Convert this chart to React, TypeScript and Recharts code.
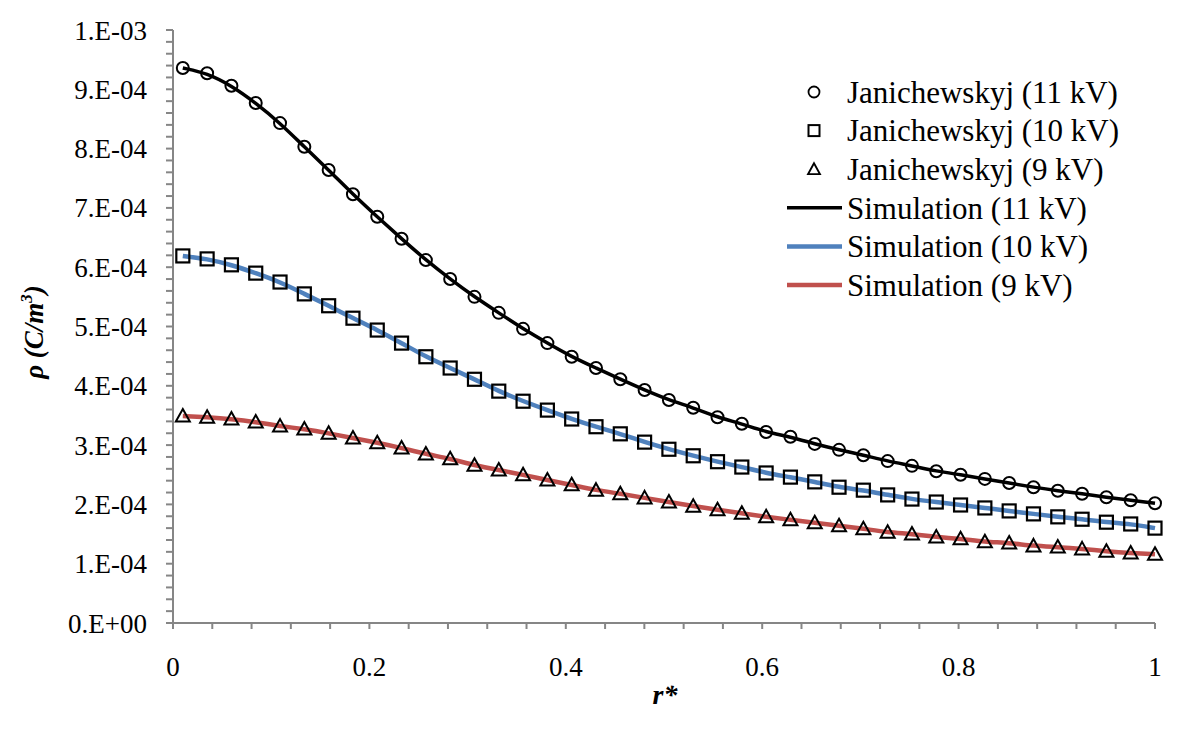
import React from 'react';
import { ComposedChart, Line, XAxis, YAxis } from 'recharts';

const FONT = "'Liberation Serif', 'Times New Roman', serif";
const AXIS_GREY = '#868686';

// r* positions of the Janichewskyj points (and of the simulation curves)
const rStar = [
    0.01, 0.03475, 0.0595, 0.08425, 0.109, 0.13375, 0.1585, 0.18325, 0.208, 0.23275,
    0.2575, 0.28225, 0.307, 0.33175, 0.3565, 0.38125, 0.406, 0.43075, 0.4555, 0.48025,
    0.505, 0.52975, 0.5545, 0.57925, 0.604, 0.62875, 0.6535, 0.67825, 0.703, 0.72775,
    0.7525, 0.77725, 0.802, 0.82675, 0.8515, 0.87625, 0.901, 0.92575, 0.9505, 0.97525, 1.0,
];

const janich11 = [
    9.36e-4, 9.27e-4, 9.06e-4, 8.77e-4, 8.43e-4, 8.03e-4, 7.64e-4, 7.23e-4, 6.85e-4, 6.48e-4,
    6.12e-4, 5.80e-4, 5.50e-4, 5.23e-4, 4.96e-4, 4.72e-4, 4.49e-4, 4.30e-4, 4.11e-4, 3.93e-4,
    3.76e-4, 3.63e-4, 3.47e-4, 3.36e-4, 3.22e-4, 3.14e-4, 3.02e-4, 2.92e-4, 2.83e-4, 2.73e-4,
    2.65e-4, 2.56e-4, 2.50e-4, 2.43e-4, 2.36e-4, 2.29e-4, 2.23e-4, 2.18e-4, 2.12e-4, 2.07e-4, 2.02e-4,
];

const janich10 = [
    6.19e-4, 6.14e-4, 6.04e-4, 5.90e-4, 5.75e-4, 5.55e-4, 5.35e-4, 5.14e-4, 4.94e-4, 4.72e-4,
    4.49e-4, 4.30e-4, 4.11e-4, 3.91e-4, 3.74e-4, 3.59e-4, 3.44e-4, 3.31e-4, 3.19e-4, 3.05e-4,
    2.93e-4, 2.82e-4, 2.72e-4, 2.63e-4, 2.53e-4, 2.46e-4, 2.38e-4, 2.29e-4, 2.24e-4, 2.16e-4,
    2.09e-4, 2.04e-4, 1.99e-4, 1.94e-4, 1.89e-4, 1.84e-4, 1.79e-4, 1.75e-4, 1.70e-4, 1.67e-4, 1.60e-4,
];

const janich9 = [
    3.49e-4, 3.47e-4, 3.44e-4, 3.39e-4, 3.32e-4, 3.27e-4, 3.20e-4, 3.12e-4, 3.04e-4, 2.95e-4,
    2.85e-4, 2.77e-4, 2.66e-4, 2.58e-4, 2.50e-4, 2.41e-4, 2.33e-4, 2.24e-4, 2.18e-4, 2.11e-4,
    2.04e-4, 1.97e-4, 1.91e-4, 1.85e-4, 1.79e-4, 1.74e-4, 1.69e-4, 1.64e-4, 1.59e-4, 1.53e-4,
    1.50e-4, 1.45e-4, 1.42e-4, 1.37e-4, 1.35e-4, 1.30e-4, 1.28e-4, 1.25e-4, 1.21e-4, 1.18e-4, 1.16e-4,
];

// simulation curves run through the measured points
const sim11 = janich11;
const sim10 = janich10;
const sim9 = janich9;

const xMajor = [0, 0.2, 0.4, 0.6, 0.8, 1];
const yMajor = [0, 1e-4, 2e-4, 3e-4, 4e-4, 5e-4, 6e-4, 7e-4, 8e-4, 9e-4, 1e-3];

// minor tick marks (every 0.04 on x, every 2e-5 on y)
const xTicks = Array.from({ length: 26 }, (_, i) => i * 0.04);
const yTicks = Array.from({ length: 51 }, (_, i) => i * 2e-5);

const legendLabels = [
    'Janichewskyj (11 kV)',
    'Janichewskyj (10 kV)',
    'Janichewskyj (9 kV)',
    'Simulation (11 kV)',
    'Simulation (10 kV)',
    'Simulation (9 kV)',
];

const data = rStar.map((r, i) => ({
    r,
    j11: janich11[i],
    j10: janich10[i],
    j9: janich9[i],
    s11: sim11[i],
    s10: sim10[i],
    s9: sim9[i],
}));

const formatX = (v: number) => {
    const major = xMajor.find(m => Math.abs(m - v) < 1e-6);
    return major === undefined ? '' : String(major);
};

const formatY = (v: number) => {
    const major = yMajor.find(m => Math.abs(m - v) < 1e-9);
    if (major === undefined) return '';
    if (major === 0) return '0.E+00';
    const exp = Math.floor(Math.log10(major) + 1e-9);
    const mant = Math.round(major / Math.pow(10, exp));
    return `${mant}.E-${String(-exp).padStart(2, '0')}`;
};

const circleDot = (p: any) => (
    <circle key={`c-${p.index}`} cx={p.cx} cy={p.cy} r={6} fill="none" stroke="#000" strokeWidth={2} />
);
const squareDot = (p: any) => (
    <rect key={`s-${p.index}`} x={p.cx - 6.5} y={p.cy - 6.5} width={13} height={13} fill="none" stroke="#000" strokeWidth={2.2} />
);
const triangleDot = (p: any) => (
    <path
        key={`t-${p.index}`}
        d={`M${p.cx},${p.cy - 7}L${p.cx + 7},${p.cy + 5.5}L${p.cx - 7},${p.cy + 5.5}Z`}
        fill="none"
        stroke="#000"
        strokeWidth={2}
    />
);

const LegendBox = () => {
    const rowY = (i: number) => 32 + i * 38.6;
    return (
        <svg width={410} height={250} style={{ position: 'absolute', left: 762, top: 52 }}>
            <circle cx={44} cy={rowY(0)} r={5.5} fill="none" stroke="#000" strokeWidth={1.8} />
            <rect x={38.5} y={rowY(1) - 5.5} width={11} height={11} fill="none" stroke="#000" strokeWidth={2} />
            <path d={`M44,${rowY(2) - 6}L50,${rowY(2) + 5}L38,${rowY(2) + 5}Z`} fill="none" stroke="#000" strokeWidth={1.8} />
            <line x1={17} x2={72} y1={rowY(3)} y2={rowY(3)} stroke="#000" strokeWidth={3.5} />
            <line x1={17} x2={72} y1={rowY(4)} y2={rowY(4)} stroke="#4F81BD" strokeWidth={4.5} />
            <line x1={17} x2={72} y1={rowY(5)} y2={rowY(5)} stroke="#C0504D" strokeWidth={4.5} />
            {legendLabels.map((label, i) => (
                <text key={label} x={77} y={rowY(i)} dy="0.35em" style={{ fontFamily: FONT }} fontSize={31} fill="#000">
                    {label}
                </text>
            ))}
        </svg>
    );
};

const AxisTitles = () => (
    <svg width={1173} height={715} style={{ position: 'absolute', left: 0, top: 0, pointerEvents: 'none' }}>
        <text
            transform="translate(35,324) rotate(-90)"
            textAnchor="middle"
            style={{ fontFamily: FONT }}
            fontSize={27}
            fontWeight="bold"
            fontStyle="italic"
        >
            ρ (C/m<tspan dy={-11} fontSize={17}>3</tspan><tspan dy={11}>)</tspan>
        </text>
        <text x={657} y={696} textAnchor="middle" style={{ fontFamily: FONT }} fontSize={28} fontWeight="bold" fontStyle="italic">
            r*
        </text>
    </svg>
);

export default function App() {
    return (
        <div
            style={{
                position: 'relative',
                width: 1173,
                height: 715,
                marginTop: -2,
                marginLeft: -2,
                borderTop: '2px solid #8a8a8a',
                borderLeft: '2px solid #8a8a8a',
                background: '#fff',
                overflow: 'hidden',
                fontFamily: FONT,
            }}
        >
            <ComposedChart width={1173} height={715} data={data} margin={{ top: 22, right: 26, left: 0, bottom: 40 }}>
                <XAxis
                    dataKey="r"
                    type="number"
                    domain={[0, 1]}
                    ticks={xTicks}
                    interval={0}
                    tickFormatter={formatX}
                    height={60}
                    axisLine={{ stroke: AXIS_GREY, strokeWidth: 2 }}
                    tickLine={{ stroke: AXIS_GREY, strokeWidth: 2 }}
                    tickSize={6}
                    tickMargin={28}
                    tick={{ fill: '#000', fontSize: 27, style: { fontFamily: FONT } }}
                />
                <YAxis
                    type="number"
                    domain={[0, 0.001]}
                    ticks={yTicks}
                    interval={0}
                    tickFormatter={formatY}
                    width={165}
                    axisLine={{ stroke: AXIS_GREY, strokeWidth: 2 }}
                    tickLine={{ stroke: AXIS_GREY, strokeWidth: 2 }}
                    tickSize={7}
                    tickMargin={19}
                    tick={{ fill: '#000', fontSize: 27, style: { fontFamily: FONT } }}
                />
                <Line dataKey="s11" type="basis" stroke="#000" strokeWidth={3.5} dot={false} activeDot={false} isAnimationActive={false} />
                <Line dataKey="s10" type="basis" stroke="#4F81BD" strokeWidth={4.5} dot={false} activeDot={false} isAnimationActive={false} />
                <Line dataKey="s9" type="basis" stroke="#C0504D" strokeWidth={4.5} dot={false} activeDot={false} isAnimationActive={false} />
                <Line dataKey="j11" stroke="none" dot={circleDot} activeDot={false} isAnimationActive={false} />
                <Line dataKey="j10" stroke="none" dot={squareDot} activeDot={false} isAnimationActive={false} />
                <Line dataKey="j9" stroke="none" dot={triangleDot} activeDot={false} isAnimationActive={false} />
            </ComposedChart>
            <LegendBox />
            <AxisTitles />
        </div>
    );
}
